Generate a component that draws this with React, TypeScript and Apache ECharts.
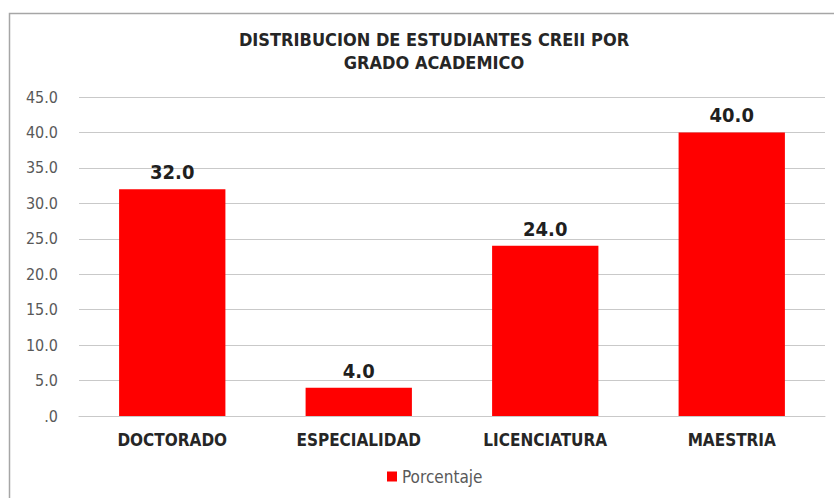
import React, { useEffect, useRef } from "react";
import * as echarts from "echarts";

const categories = ["DOCTORADO", "ESPECIALIDAD", "LICENCIATURA", "MAESTRIA"];
const porcentaje = [32.0, 4.0, 24.0, 40.0];
const titleLines = ["DISTRIBUCION DE ESTUDIANTES CREII POR", "GRADO ACADEMICO"];
const seriesName = "Porcentaje";

const FONT = "'Liberation Sans Narrow', 'DejaVu Sans Condensed', 'Open Sans', sans-serif";

export default function App() {
  const ref = useRef<HTMLDivElement>(null);
  useEffect(() => {
    if (!ref.current) return;
    const chart = echarts.init(ref.current, null, { renderer: "svg" });
    chart.setOption({
      animation: false,
      backgroundColor: "#ffffff",
      graphic: [
        {
          type: "rect",
          shape: { x: 9.5, y: 13.5, width: 900, height: 600 },
          style: { fill: "none", stroke: "#a6a6a6", lineWidth: 1.5 },
          silent: true,
        },
      ],
      title: {
        text: titleLines.join("\n"),
        left: 429,
        textAlign: "center",
        top: 23,
        textStyle: {
          fontFamily: FONT,
          fontWeight: "bold",
          fontSize: 18,
          lineHeight: 23,
          color: "#262626",
        },
      },
      legend: {
        bottom: 8,
        left: 382,
        itemWidth: 10,
        itemHeight: 10,
        icon: "rect",
        itemGap: 5,
        textStyle: { fontFamily: FONT, fontSize: 17, color: "#595959" },
        data: [seriesName],
      },
      grid: { left: 79, right: 9, top: 97, bottom: 82, containLabel: false },
      xAxis: {
        type: "category",
        data: categories,
        axisLine: { show: true, lineStyle: { color: "#c9c9c9", width: 1 } },
        axisTick: { show: false },
        axisLabel: {
          margin: 15,
          fontFamily: FONT,
          fontWeight: "bold",
          fontSize: 17,
          color: "#262626",
        },
      },
      yAxis: {
        type: "value",
        min: 0,
        max: 45,
        interval: 5,
        axisLine: { show: false },
        axisTick: { show: false },
        splitLine: { lineStyle: { color: "#c9c9c9", width: 1 } },
        axisLabel: {
          margin: 21,
          fontFamily: FONT,
          fontSize: 16,
          color: "#595959",
          formatter: (v: number) => (v === 0 ? ".0" : v.toFixed(1)),
        },
      },
      series: [
        {
          name: seriesName,
          type: "bar",
          data: porcentaje,
          barWidth: "57%",
          itemStyle: { color: "#ff0000" },
          label: {
            show: true,
            position: "top",
            distance: 7,
            fontFamily: FONT,
            fontWeight: "bold",
            fontSize: 20,
            color: "#1f1f1f",
            formatter: (p: any) => Number(p.value).toFixed(1),
          },
        },
      ],
    });
    return () => chart.dispose();
  }, []);
  return (
    <div
      ref={ref}
      style={{ position: "fixed", left: 0, top: 0, width: 834, height: 498 }}
    />
  );
}
